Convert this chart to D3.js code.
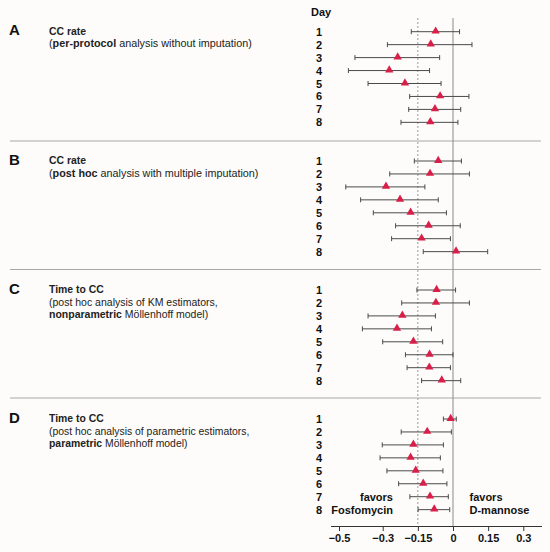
<!DOCTYPE html>
<html>
<head>
<meta charset="utf-8">
<script src="https://cdn.jsdelivr.net/npm/d3@7"></script>
<style>
  body { margin: 0; background: #fdfcfa; }
  svg { font-family: Arial, "Liberation Sans", sans-serif; }
</style>
</head>
<body>
<svg width="550" height="552"></svg>
<script>
var days = [1, 2, 3, 4, 5, 6, 7, 8];

// estimate, lower CI, upper CI per day
var pointsA = [-0.074, -0.095, -0.236, -0.272, -0.205, -0.055, -0.077, -0.097];
var lowerA  = [-0.178, -0.280, -0.427, -0.457, -0.367, -0.185, -0.189, -0.222];
var upperA  = [ 0.028,  0.081, -0.057, -0.100, -0.051,  0.068,  0.033,  0.021];

var pointsB = [-0.063, -0.098, -0.286, -0.226, -0.181, -0.104, -0.134,  0.013];
var lowerB  = [-0.165, -0.270, -0.469, -0.401, -0.343, -0.245, -0.262, -0.127];
var upperB  = [ 0.036,  0.070, -0.120, -0.063, -0.028,  0.031, -0.011,  0.148];

var pointsC = [-0.070, -0.073, -0.216, -0.239, -0.169, -0.100, -0.101, -0.048];
var lowerC  = [-0.154, -0.219, -0.367, -0.393, -0.300, -0.203, -0.196, -0.134];
var upperC  = [ 0.011,  0.070, -0.075, -0.092, -0.044,  0.000, -0.011,  0.033];

var pointsD = [-0.010, -0.110, -0.169, -0.181, -0.159, -0.127, -0.098, -0.080];
var lowerD  = [-0.041, -0.221, -0.302, -0.312, -0.282, -0.232, -0.184, -0.149];
var upperD  = [ 0.014, -0.007, -0.041, -0.054, -0.043, -0.026, -0.020, -0.014];

var tickValues = [-0.5, -0.3, -0.15, 0, 0.15, 0.3];

var panelLetters = ["A", "B", "C", "D"];
var panelText = [
    [[["CC rate", true]],
     [["(", false], ["per-protocol", true], [" analysis without imputation)", false]]],
    [[["CC rate", true]],
     [["(", false], ["post hoc", true], [" analysis with multiple imputation)", false]]],
    [[["Time to CC", true]],
     [["(post hoc analysis of KM estimators,", false]],
     [["nonparametric", true], [" Möllenhoff model)", false]]],
    [[["Time to CC", true]],
     [["(post hoc analysis of parametric estimators,", false]],
     [["parametric", true], [" Möllenhoff model)", false]]]
];

var panels = [
    {pts: pointsA, lo: lowerA, hi: upperA, top: 31.7, fs: 10.8},
    {pts: pointsB, lo: lowerB, hi: upperB, top: 161, fs: 10.8},
    {pts: pointsC, lo: lowerC, hi: upperC, top: 290, fs: 10.5},
    {pts: pointsD, lo: lowerD, hi: upperD, top: 419, fs: 10.4}
];

var svg = d3.select("svg");

// the printed axis is a bit stretched left of -0.3
var x = d3.scaleLinear()
    .domain([-0.5, -0.3, 0.3])
    .range([339, 382.7, 523.3]);

var rowStep = 12.95;
var axisY = 526;
var red = "#d81f49";

// separators between panels
svg.append("g")
    .selectAll("line")
    .data([141, 269.5, 398])
    .enter()
    .append("line")
    .attr("x1", 10)
    .attr("x2", 541)
    .attr("y1", d => d)
    .attr("y2", d => d)
    .attr("stroke", "#a8a8a8")
    .attr("stroke-width", 1);

// reference lines
svg.append("line")
    .attr("x1", x(0)).attr("x2", x(0))
    .attr("y1", 18).attr("y2", axisY)
    .attr("stroke", "#8a8a8a")
    .attr("stroke-width", 1);

svg.append("line")
    .attr("x1", x(-0.15)).attr("x2", x(-0.15))
    .attr("y1", 18).attr("y2", axisY)
    .attr("stroke", "#9a9a9a")
    .attr("stroke-width", 1)
    .attr("stroke-dasharray", "2,2");

// "Day" header
svg.append("text")
    .attr("x", 311)
    .attr("y", 15.5)
    .attr("font-size", 11)
    .attr("font-weight", "bold")
    .attr("fill", "#111")
    .text("Day");

panels.forEach(function(p, i) {
    var y = d3.scaleLinear()
        .domain([1, 8])
        .range([p.top, p.top + 7 * rowStep]);

    var g = svg.append("g");

    // letter + description
    g.append("text")
        .attr("x", 9)
        .attr("y", p.top + 3.5)
        .attr("font-size", 15)
        .attr("font-weight", "bold")
        .attr("fill", "#111")
        .text(panelLetters[i]);

    panelText[i].forEach(function(line, j) {
        var t = g.append("text")
            .attr("x", 49)
            .attr("y", p.top + 2.8 + j * 12.8)
            .attr("font-size", j === 0 ? 10.4 : p.fs)
            .attr("fill", "#222");
        t.selectAll("tspan")
            .data(line)
            .enter()
            .append("tspan")
            .attr("font-weight", d => d[1] ? "bold" : "normal")
            .text(d => d[0]);
    });

    // day numbers
    g.append("g")
        .selectAll("text")
        .data(days)
        .enter()
        .append("text")
        .attr("x", 319)
        .attr("y", d => y(d) + 4)
        .attr("text-anchor", "middle")
        .attr("font-size", 11)
        .attr("font-weight", "bold")
        .attr("fill", "#111")
        .text(d => d);

    var rows = days.map((d, k) => ({day: d, pt: p.pts[k], lo: p.lo[k], hi: p.hi[k]}));

    var bars = g.append("g")
        .selectAll("g")
        .data(rows)
        .enter()
        .append("g")
        .attr("stroke", "#4a4a4a")
        .attr("stroke-width", 1);

    bars.append("line")
        .attr("x1", d => x(d.lo))
        .attr("x2", d => x(d.hi))
        .attr("y1", d => y(d.day))
        .attr("y2", d => y(d.day));

    bars.append("line")
        .attr("x1", d => x(d.lo))
        .attr("x2", d => x(d.lo))
        .attr("y1", d => y(d.day) - 2.5)
        .attr("y2", d => y(d.day) + 2.5);

    bars.append("line")
        .attr("x1", d => x(d.hi))
        .attr("x2", d => x(d.hi))
        .attr("y1", d => y(d.day) - 2.5)
        .attr("y2", d => y(d.day) + 2.5);

    g.append("g")
        .selectAll("path")
        .data(rows)
        .enter()
        .append("path")
        .attr("d", d3.symbol(d3.symbolTriangle, 30))
        .attr("transform", d => `translate(${x(d.pt)},${y(d.day) - 0.5})`)
        .attr("fill", red);
});

// favors labels
svg.append("g")
    .selectAll("text")
    .data([["favors", 393, 501, "end"], ["Fosfomycin", 393, 513.5, "end"],
           ["favors", 469.5, 501, "start"], ["D-mannose", 469.5, 513.5, "start"]])
    .enter()
    .append("text")
    .attr("x", d => d[1])
    .attr("y", d => d[2])
    .attr("text-anchor", d => d[3])
    .attr("font-size", 11)
    .attr("font-weight", "bold")
    .attr("fill", "#111")
    .text(d => d[0]);

// x axis
var axis = svg.append("g")
    .attr("transform", `translate(0,${axisY})`)
    .call(d3.axisBottom(x)
        .tickValues(tickValues)
        .tickSize(5)
        .tickPadding(3)
        .tickFormat(d => d === 0 ? "0" : d3.format("")(d).replace("-", "\u2212")));

axis.select(".domain")
    .attr("d", "M331,0.5H542")
    .attr("stroke", "#333");
axis.selectAll(".tick line").attr("stroke", "#333");
axis.selectAll(".tick text")
    .attr("font-size", 11)
    .attr("font-weight", "bold")
    .attr("fill", "#111")
    .attr("font-family", "Arial, 'Liberation Sans', sans-serif");
</script>
</body>
</html>
